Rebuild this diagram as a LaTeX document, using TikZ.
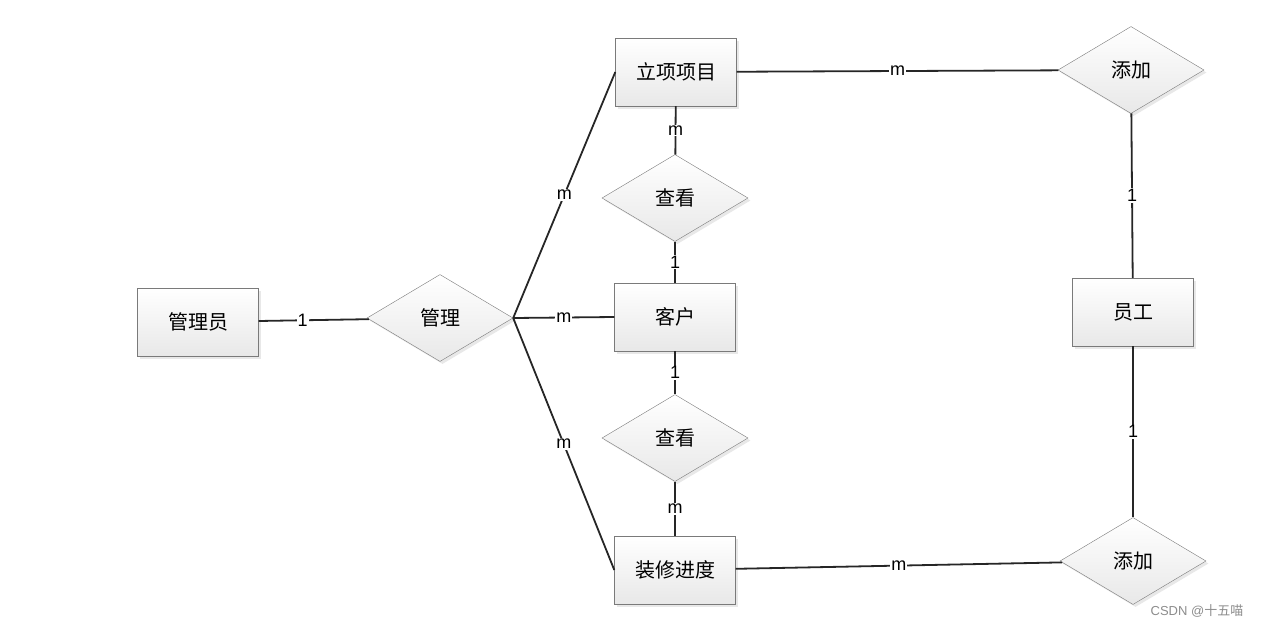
\documentclass[tikz,border=0pt]{standalone}
\usepackage{fontspec}
\setmainfont{Liberation Sans}
\newfontfamily\cjk{Noto Sans CJK SC}
\usetikzlibrary{shapes.geometric}
\usetikzlibrary{shadows}
\definecolor{edgegray}{HTML}{262626}
\definecolor{bordergray}{HTML}{7A7A7A}

\begin{document}
\begin{tikzpicture}[x=1pt, y=-1pt, thick,
        ent/.style = {draw=bordergray, thin, rectangle, top color=white, bottom color=black!9, minimum width=121pt, minimum height=68pt, inner sep=0pt, font=\cjk\fontsize{20}{20}\selectfont, drop shadow={shadow xshift=2.5pt, shadow yshift=-2.5pt, opacity=0.18}},
        rel/.style = {draw=bordergray, thin, diamond, top color=white, bottom color=black!9, minimum width=146pt, minimum height=87pt, inner sep=0pt, font=\cjk\fontsize{20}{20}\selectfont, drop shadow={shadow xshift=2.5pt, shadow yshift=-2.5pt, opacity=0.18}},
        lbl/.style = {fill=white, inner sep=1pt, font=\fontsize{18}{18}\selectfont},
        link/.style = {draw=edgegray, line width=1.8pt}]
        \useasboundingbox (0,0) rectangle (1262,627);
        \node[ent] (1) at (198,322) {管理员};
        \node[rel] (2) at (440,318) {管理};
        \node[ent] (3) at (676,72) {立项项目};
        \node[rel] (4) at (675,198) {查看};
        \node[ent] (5) at (675,317) {客户};
        \node[rel] (6) at (675,438) {查看};
        \node[ent] (7) at (675,570) {装修进度};
        \node[rel] (8) at (1131,70) {添加};
        \node[ent] (9) at (1133,312) {员工};
        \node[rel] (10) at (1133,561) {添加};
        \draw[link] (1) to node[lbl, pos=0.4] {1} (2);
        \draw[link] (2.east) to node[lbl, pos=0.5] {m} (3.west);
        \draw[link] (2.east) to node[lbl, pos=0.5] {m} (5.west);
        \draw[link] (2.east) to node[lbl, pos=0.5] {m} (7.west);
        \draw[link] (3) to node[lbl] {m} (4);
        \draw[link] (4) to node[lbl] {1} (5);
        \draw[link] (5) to node[lbl] {1} (6);
        \draw[link] (6) to node[lbl] {m} (7);
        \draw[link] (3) to node[lbl] {m} (8);
        \draw[link] (8) to node[lbl] {1} (9);
        \draw[link] (9) to node[lbl] {1} (10);
        \draw[link] (7) to node[lbl] {m} (10);
        \node[text=black!45, font=\fontsize{13}{13}\selectfont, anchor=east] (wm) at (1247,611) {CSDN @{\cjk 十五喵}};
        \end{tikzpicture}
\end{document}
